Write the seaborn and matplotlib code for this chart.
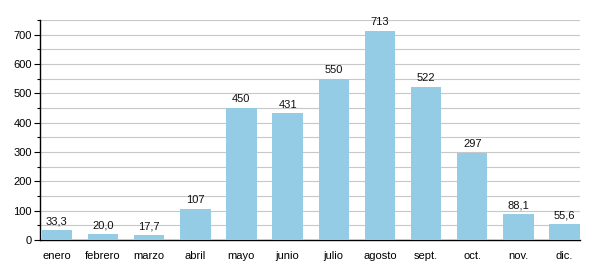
import matplotlib
matplotlib.use("Agg")
import matplotlib.pyplot as plt
import seaborn as sns
import pandas as pd
from matplotlib.ticker import MultipleLocator

months = ["enero", "febrero", "marzo", "abril", "mayo", "junio", "julio",
          "agosto", "sept.", "oct.", "nov.", "dic."]
values = [33.3, 20.0, 17.7, 107, 450, 431, 550, 713, 522, 297, 88.1, 55.6]
labels = ["33,3", "20,0", "17,7", "107", "450", "431", "550", "713", "522", "297", "88,1", "55,6"]

sns.set_theme(style="white")
plt.rcParams['font.family'] = ['Liberation Sans', 'DejaVu Sans']

df = pd.DataFrame({"mes": months, "valor": values})
fig = plt.figure(figsize=(6, 2.8), dpi=100)
ax = fig.add_axes([0.067, 0.143, 0.9, 0.786])
sns.barplot(data=df, x="mes", y="valor", color="#95CCE5", saturation=1,
            width=0.66, ax=ax, zorder=3, edgecolor="none", linewidth=0)
for i, (v, t) in enumerate(zip(values, labels)):
    ax.text(i, v + 12, t, ha="center", va="bottom", fontsize=8, color="#111111")
ax.set_ylim(0, 750)
ax.set_xlim(-0.36, 11.34)
ax.yaxis.set_major_locator(MultipleLocator(100))
ax.yaxis.set_minor_locator(MultipleLocator(50))
ax.grid(axis="y", which="both", color="#c8c8c8", linewidth=0.8, zorder=0)
ax.set_axisbelow(True)
ax.set_xlabel("")
ax.set_ylabel("")
for s in ["top", "right"]:
    ax.spines[s].set_visible(False)
ax.spines["left"].set_color("black")
ax.spines["bottom"].set_color("black")
ax.spines["left"].set_linewidth(1)
ax.spines["bottom"].set_linewidth(1)
ax.tick_params(axis="y", which="major", left=True, length=4, width=0.8, labelsize=8, pad=2, colors="black")
ax.tick_params(axis="y", which="minor", left=True, length=2, width=0.8, colors="black")
ax.tick_params(axis="x", bottom=False, labelsize=8, pad=2, colors="black")
fig.savefig("out.png", dpi=100)
